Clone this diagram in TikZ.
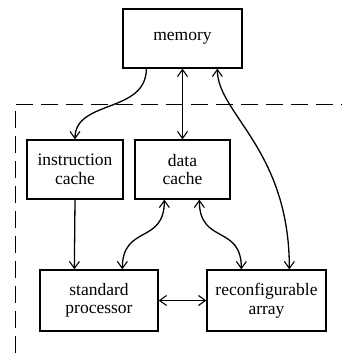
\documentclass[tikz,border=0pt]{standalone}
\usepackage{fontspec}
\setmainfont{Liberation Serif}
\usetikzlibrary{arrows.meta,calc}
\begin{document}
\begin{tikzpicture}[x=1pt,y=1pt,
  box/.style={draw,line width=1.3pt,inner sep=0pt,align=center,font=\fontsize{17.5}{18.5}\selectfont},
  conn/.style={line width=1.3pt,>={Straight Barb[length=7pt,width=10pt,line width=1.1pt]}},
  frame/.style={line width=0.9pt,dash pattern=on 17pt off 8pt}]
\useasboundingbox (0,0) rectangle (342,353);
\node[box,minimum width=119pt,minimum height=59pt] (mem) at (182.5,314.5) {memory};
\node[box,minimum width=96pt,minimum height=59pt] (ic) at (75,183.5) {instruction\\cache};
\node[box,minimum width=95pt,minimum height=59pt] (dc) at (182.5,183.5) {data\\cache};
\node[box,minimum width=118pt,minimum height=61pt] (sp) at (99,52.5) {standard\\processor};
\node[box,minimum width=119pt,minimum height=61pt] (ra) at (266.5,52.5) {reconfigurable\\array};
\coordinate (fa) at (15,0);
\coordinate (fb) at (15,249);
\coordinate (fc) at (342,249);
\draw[frame] (fa) -- (fb) -- (fc);
\draw[conn,->] ($(mem.south west)+(24,0)$) .. controls +(0,-45) and +(0,40) .. (ic.north);
\draw[conn,<->] (mem.south) -- (dc.north);
\draw[conn,<->] ($(mem.south west)+(95,0)$) .. controls +(0,-45) and +(0,120) .. ($(ra.north west)+(83,0)$);
\draw[conn,->] (ic.south) -- ($(sp.north west)+(35,0)$);
\draw[conn,<->] ($(dc.south west)+(30,0)$) .. controls +(0,-45) and +(0,45) .. ($(sp.north west)+(83,0)$);
\draw[conn,<->] ($(dc.south west)+(65,0)$) .. controls +(0,-45) and +(0,45) .. ($(ra.north west)+(35,0)$);
\draw[conn,<->] (sp.east) -- (ra.west);
\end{tikzpicture}
\end{document}
